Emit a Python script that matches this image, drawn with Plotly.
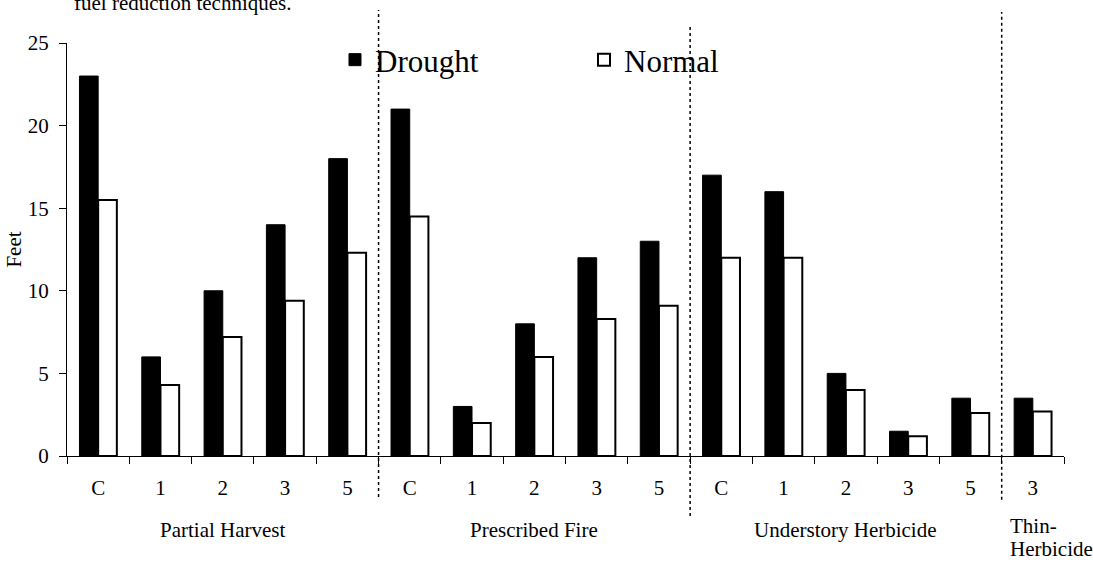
import plotly.graph_objects as go

# ---- data ----
groups = ["Partial Harvest", "Prescribed Fire", "Understory Herbicide", "Thin-<br>Herbicide"]
group_sizes = [5, 5, 5, 1]
treatments = ["C", "1", "2", "3", "5",
              "C", "1", "2", "3", "5",
              "C", "1", "2", "3", "5",
              "3"]
drought = [23, 6, 10, 14, 18,
           21, 3, 8, 12, 13,
           17, 16, 5, 1.5, 3.5,
           3.5]
normal = [15.5, 4.3, 7.2, 9.4, 12.3,
          14.5, 2.0, 6.0, 8.3, 9.1,
          12.0, 12.0, 4.0, 1.2, 2.6,
          2.7]
y_ticks = [0, 5, 10, 15, 20, 25]

FONT = "Liberation Serif, Times New Roman, serif"
FS = 21
x = list(range(len(treatments)))

fig = go.Figure()
fig.add_trace(go.Bar(x=x, y=drought, name="Drought",
                     marker=dict(color="black", line=dict(color="black", width=1))))
fig.add_trace(go.Bar(x=x, y=normal, name="Normal",
                     marker=dict(color="white", line=dict(color="black", width=2))))

# group separators and labels
shapes = []
annotations = []
start = 0
sep_tops = [1.08, 1.044, 1.075]
sep_bottoms = [-0.099, -0.145, -0.106]
for i, (g, n) in enumerate(zip(groups, group_sizes)):
    center = start + (n - 1) / 2
    if i < len(groups) - 1:
        annotations.append(dict(x=center, y=-0.179, xref="x", yref="paper",
                                text=g, showarrow=False, font=dict(size=FS, family=FONT, color="black"),
                                xanchor="center", yanchor="middle"))
    else:
        for j, line in enumerate(g.split("<br>")):
            annotations.append(dict(x=start - 0.4, y=-0.17 - 0.055 * j, xref="x", yref="paper",
                                    text=line, showarrow=False, align="left",
                                    font=dict(size=FS, family=FONT, color="black"),
                                    xanchor="left", yanchor="middle"))
    start += n
    if i < len(groups) - 1:
        shapes.append(dict(type="line", xref="x", yref="paper",
                           x0=start - 0.5, x1=start - 0.5,
                           y0=sep_bottoms[i], y1=sep_tops[i],
                           line=dict(color="black", width=1.5, dash="dot")))

annotations.append(dict(x=0.005, y=1.097, xref="paper", yref="paper",
                        text="fuel reduction techniques.", showarrow=False,
                        font=dict(size=FS, family=FONT, color="black"),
                        xanchor="left", yanchor="middle"))

fig.update_layout(
    width=1093, height=563,
    margin=dict(l=67, r=29, t=43, b=107),
    paper_bgcolor="white", plot_bgcolor="white",
    barmode="group", bargap=0.4, bargroupgap=0,
    font=dict(family=FONT, size=FS, color="black"),
    showlegend=True,
    legend=dict(orientation="h", x=0.2688, xanchor="left", y=0.9588, yanchor="middle",
                font=dict(size=31, family=FONT, color="black"),
                entrywidth=204, entrywidthmode="pixels",
                bgcolor="rgba(0,0,0,0)", borderwidth=0),
    shapes=shapes,
    annotations=annotations,
)
fig.update_xaxes(
    range=[-0.5, len(treatments) - 0.5],
    tickmode="array", tickvals=x, ticktext=treatments,
    ticks="", ticklabelstandoff=13,
    tickfont=dict(size=FS, family=FONT, color="black"),
    showline=True, linecolor="black", linewidth=1,
    showgrid=False, zeroline=False,
    minor=dict(tickvals=[v - 0.5 for v in x] + [len(x) - 0.5], ticks="outside",
               ticklen=7, tickcolor="black", tickwidth=1, showgrid=False),
)
fig.update_yaxes(
    range=[0, 25], tickmode="array", tickvals=y_ticks,
    ticks="outside", ticklen=7, tickcolor="black", tickwidth=1,
    ticklabelstandoff=6,
    tickfont=dict(size=FS, family=FONT, color="black"),
    showline=True, linecolor="black", linewidth=1,
    showgrid=False, zeroline=False,
    title=dict(text="Feet", font=dict(size=FS, family=FONT, color="black"), standoff=0),
)

fig.write_html("out.html")
